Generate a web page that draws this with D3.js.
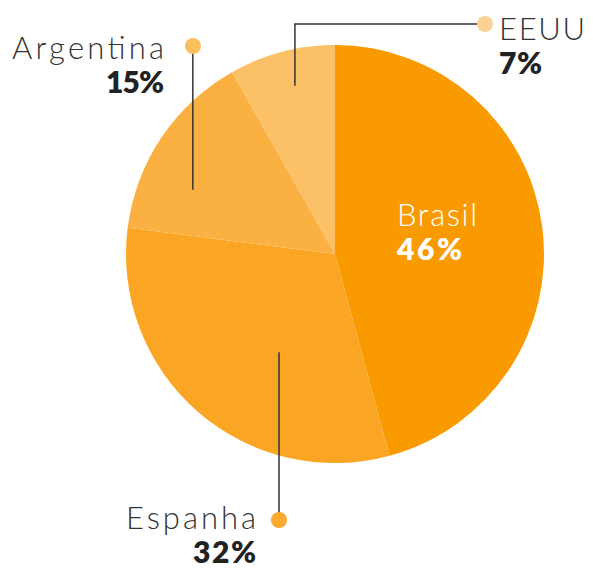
<!DOCTYPE html>
<html>
<head>
<meta charset="utf-8">
<script src="https://cdn.jsdelivr.net/npm/d3@7"></script>
<style>
  body { margin: 0; background: #fff; }
  text { font-family: Lato, "Open Sans", sans-serif; }
</style>
</head>
<body>
<svg id="chart" width="593" height="569"></svg>
<script>
// slice shares as drawn (clockwise from 12 o'clock)
var countries = ["Brasil", "Espanha", "Argentina", "EEUU"];
var shares = [45.8, 31.2, 14.8, 8.2];
var pctLabels = ["46%", "32%", "15%", "7%"];
var sliceColors = ["#F99A00", "#FAA524", "#FBB042", "#FCC066"];
var dotColors = ["#F99A00", "#FBAA2E", "#FBBF5C", "#FDD394"];

var W = 593, H = 569,
    CX = 335, CY = 254, R = 209;

var svg = d3.select("#chart");

var pie = d3.pie().sort(null).value(function(d) { return d; });
var arc = d3.arc().innerRadius(0).outerRadius(R);
var arcs = pie(shares);

var g = svg.append("g").attr("transform", "translate(" + CX + "," + CY + ")");

g.selectAll("path")
    .data(arcs)
    .enter()
    .append("path")
    .attr("d", arc)
    .attr("fill", function(d, i) { return sliceColors[i]; });

// polar point relative to pie centre, angle in degrees clockwise from top
function polar(deg, r) {
    var a = deg * Math.PI / 180;
    return [Math.sin(a) * r, -Math.cos(a) * r];
}

// leader-line layout for the outside labels (index into countries)
var leaders = [
    {i: 1, anchor: polar(209.7, 113), dot: [279, 520]},
    {i: 2, anchor: polar(294.3, 156), dot: [193, 46]},
    {i: 3, anchor: polar(346.6, 173), dot: [485, 24]}
];

leaders.forEach(function(l) {
    var ax = CX + l.anchor[0], ay = CY + l.anchor[1];
    var pts;
    if (Math.abs(l.dot[0] - ax) < 2) {
        pts = [[ax, ay], [ax, l.dot[1]]];
    } else {
        pts = [[ax, ay], [ax, l.dot[1]], l.dot];
    }
    svg.append("path")
        .attr("d", d3.line()(pts))
        .attr("fill", "none")
        .attr("stroke", "#333")
        .attr("stroke-width", 1.5);
    svg.append("circle")
        .attr("cx", l.dot[0])
        .attr("cy", l.dot[1])
        .attr("r", 8)
        .attr("fill", dotColors[l.i]);
});

// label blocks: name on top, bold percentage below (w = widths of the two lines)
var labelPos = [
    {i: 0, x: 397, y: 226, anchor: "start", fill: "#fff", pfill: "#fff", w: [80, 65]},
    {i: 1, x: 256, y: 529, anchor: "end", fill: "#333", pfill: "#222", w: [130, 63]},
    {i: 2, x: 164, y: 59, anchor: "end", fill: "#333", pfill: "#222", w: [152, 58]},
    {i: 3, x: 499, y: 40, anchor: "start", fill: "#333", pfill: "#222", w: [86, 43]}
];

labelPos.forEach(function(p) {
    svg.append("text")
        .attr("x", p.x)
        .attr("y", p.y)
        .attr("text-anchor", p.anchor)
        .attr("fill", p.fill)
        .attr("textLength", p.w[0])
        .attr("lengthAdjust", "spacing")
        .style("font-size", "31px")
        .style("font-weight", 300)
        .text(countries[p.i]);
    svg.append("text")
        .attr("x", p.x)
        .attr("y", p.y + 34)
        .attr("text-anchor", p.anchor)
        .attr("fill", p.pfill)
        .attr("textLength", p.w[1])
        .attr("lengthAdjust", "spacing")
        .style("font-size", "30px")
        .style("font-weight", 800)
        .text(pctLabels[p.i]);
});
</script>
</body>
</html>
